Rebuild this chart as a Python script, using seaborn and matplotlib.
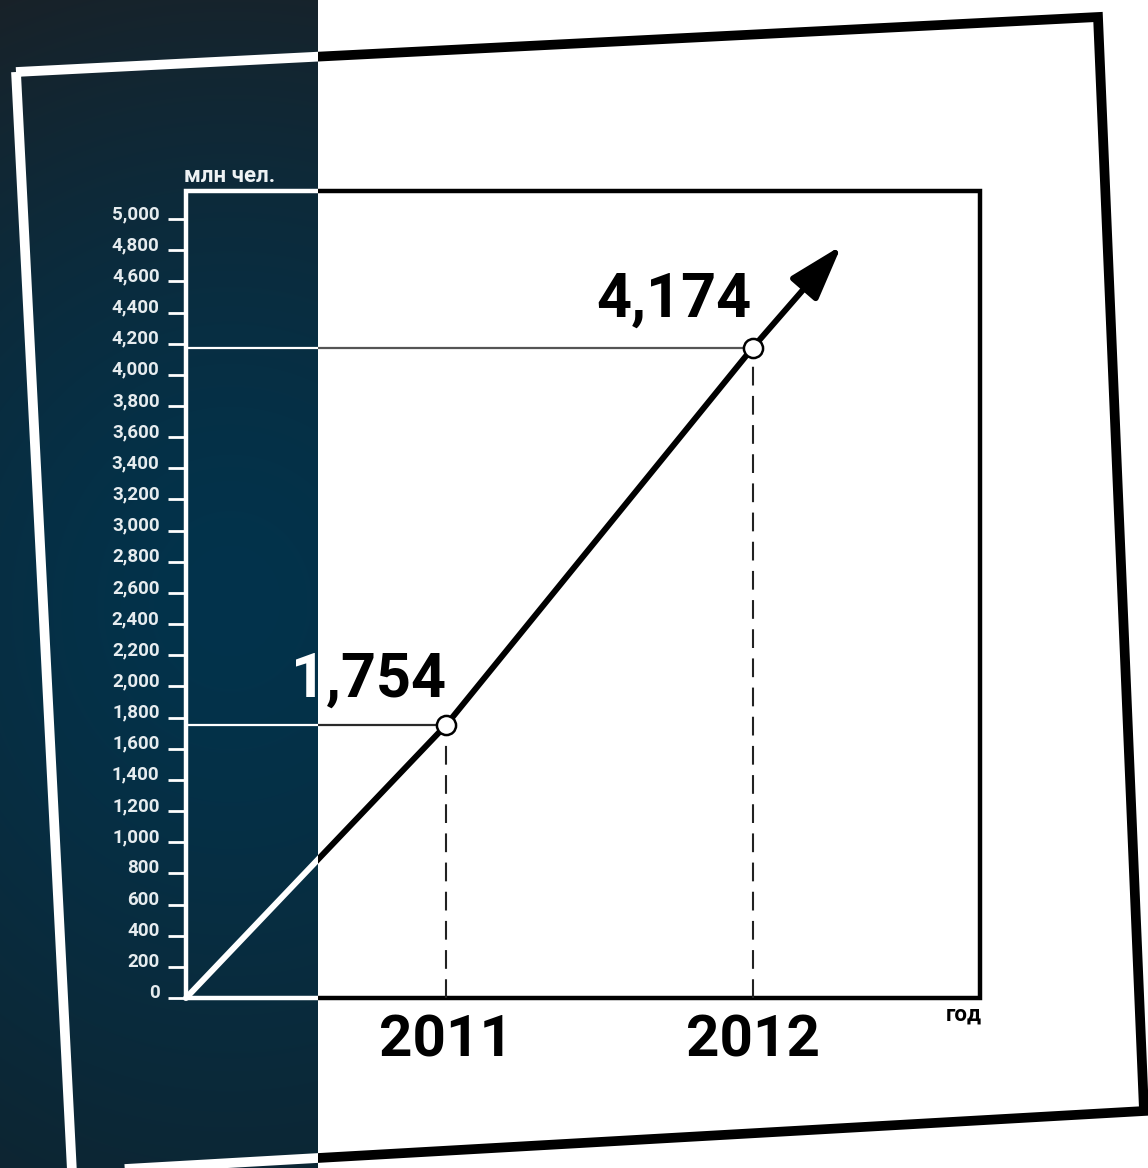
import numpy as np
import pandas as pd
import matplotlib
matplotlib.use('Agg')
import matplotlib.pyplot as plt
from matplotlib.patches import Rectangle, Polygon
import seaborn as sns

# ---------------- data ----------------
years = [2011, 2012]
users_mln = [1754, 4174]
value_labels = ['1,754', '4,174']
x_origin = 2010.15
y_ticks = list(range(0, 5001, 200))
y_tick_labels = [f'{v:,}' for v in y_ticks]
x_tick_labels = ['2011', '2012']
y_unit = 'млн чел.'
x_unit = 'год'

# ---------------- layout / style ----------------
W, H = 1148, 1168
SPLIT = 318  # dark panel right edge (px)

sns.set_style('white')
plt.rcParams['font.family'] = ['Roboto', 'DejaVu Sans']

fig = plt.figure(figsize=(W / 100, H / 100), dpi=100)
fig.patch.set_facecolor('white')

left_clip = Rectangle((0, 0), SPLIT / W, 1, transform=fig.transFigure)
right_clip = Rectangle((SPLIT / W, 0), 1 - SPLIT / W, 1, transform=fig.transFigure)


def clip(artist, side):
    artist.set_clip_on(True)
    artist.set_clip_path(left_clip if side == 'L' else right_clip)
    return artist


SIDES = [('white', 'L'), ('black', 'R')]

# ---------------- background axes ----------------
bg = fig.add_axes([0, 0, 1, 1], zorder=0)
yy, xx = np.mgrid[0:H, 0:SPLIT].astype(float)
d = np.hypot(xx - 230, (yy - 600) * 0.9)
t = np.clip(d / 650, 0, 1) ** 1.4
inner = np.array([0x02, 0x33, 0x4c]) / 255
outer_top = np.array([0x1c, 0x1f, 0x23]) / 255
outer_bot = np.array([0x10, 0x22, 0x2c]) / 255
s = (yy / H)[..., None]
outer = outer_top * (1 - s) + outer_bot * s
img = inner * (1 - t[..., None]) + outer * t[..., None]
bg.imshow(img, extent=(0, SPLIT, H, 0), aspect='auto', interpolation='bilinear')

frame_pts = [(16, 72), (1098, 17), (1144, 1111), (72, 1172)]
for color, side in SIDES:
    poly = Polygon(frame_pts, closed=True, fill=False, lw=7, ec=color, joinstyle='miter')
    bg.add_patch(poly)
    clip(poly, side)
bg.set_xlim(0, W)
bg.set_ylim(H, 0)
bg.axis('off')

# ---------------- main axes ----------------
ax = fig.add_axes([186 / W, 1 - 998 / H, (980 - 186) / W, (998 - 191) / H], zorder=2)
ax.patch.set_alpha(0)
for sp in ax.spines.values():
    sp.set_visible(False)

# plot box
for color, side in SIDES:
    r = Rectangle((0, 0), 1, 1, transform=ax.transAxes, fill=False, lw=3.2,
                  ec=color, zorder=3, joinstyle='miter')
    ax.add_patch(r)
    clip(r, side)

# main growth line
df = pd.DataFrame({'year': [x_origin] + years, 'value': [0] + users_mln})
for color, side in SIDES:
    sns.lineplot(data=df, x='year', y='value', ax=ax, color=color, lw=4.3,
                 zorder=4, solid_joinstyle='miter')
    clip(ax.lines[-1], side)

# guide lines
guide_colors = ['#2a2a2a', '#555555']
for yr, v, gc in zip(years, users_mln, guide_colors):
    for color, side in [('white', 'L'), (gc, 'R')]:
        ln, = ax.plot([x_origin, yr], [v, v], color=color, lw=1.6, zorder=3.5)
        clip(ln, side)
    ax.plot([yr, yr], [0, v], color='#222222', lw=1.5, ls=(0, (9, 5)), zorder=3.5)

# arrow continuing the trend
ax.annotate('', xy=(2012.29, 4830), xytext=(years[-1], users_mln[-1]),
            arrowprops=dict(arrowstyle='-|>,head_length=0.75,head_width=0.24',
                            mutation_scale=45, lw=4.3, color='black',
                            shrinkA=0, shrinkB=0), zorder=4)

# markers
sns.scatterplot(x=years, y=users_mln, ax=ax, s=190, color='white',
                edgecolor='black', linewidth=1.8, zorder=6, legend=False)

# value labels
offsets = [(-56, 20), (-57, 22)]
for yr, v, lab, off in zip(years, users_mln, value_labels, offsets):
    for color, side in SIDES:
        tx = ax.annotate(lab, xy=(yr, v), xytext=off, textcoords='offset points',
                         ha='center', va='baseline', fontsize=44,
                         fontweight='bold', color=color, zorder=7)
        clip(tx, side)

# axes scales & ticks
ax.set_xlim(x_origin, 2012.742)
ax.set_ylim(0, 5180)
ax.set_xlabel('')
ax.set_ylabel('')
ax.set_yticks(y_ticks)
ax.set_yticklabels(y_tick_labels)
ax.tick_params(axis='y', direction='out', length=13, width=2, color='white',
               pad=6, labelsize=13.5, labelcolor='#e6ecef', left=True)
ax.set_xticks(years)
ax.set_xticklabels(x_tick_labels)
ax.tick_params(axis='x', length=0, pad=11, labelsize=42, labelcolor='black',
               bottom=True)
for lbl in ax.get_xticklabels():
    lbl.set_fontweight('bold')
for lbl in ax.get_yticklabels():
    lbl.set_fontweight('semibold')
    lbl.set_verticalalignment('baseline')
ax.grid(False)

ax.text(1.0025, -(1021 - 998) / 807, x_unit, transform=ax.transAxes, ha='right',
        va='baseline', fontsize=16, fontweight='bold', color='black')
ax.text(-0.0025, (998 - 182) / 807, y_unit, transform=ax.transAxes, ha='left',
        va='baseline', fontsize=16, fontweight='semibold', color='#eef2f4')

fig.savefig('out.png', dpi=100, facecolor='white')
